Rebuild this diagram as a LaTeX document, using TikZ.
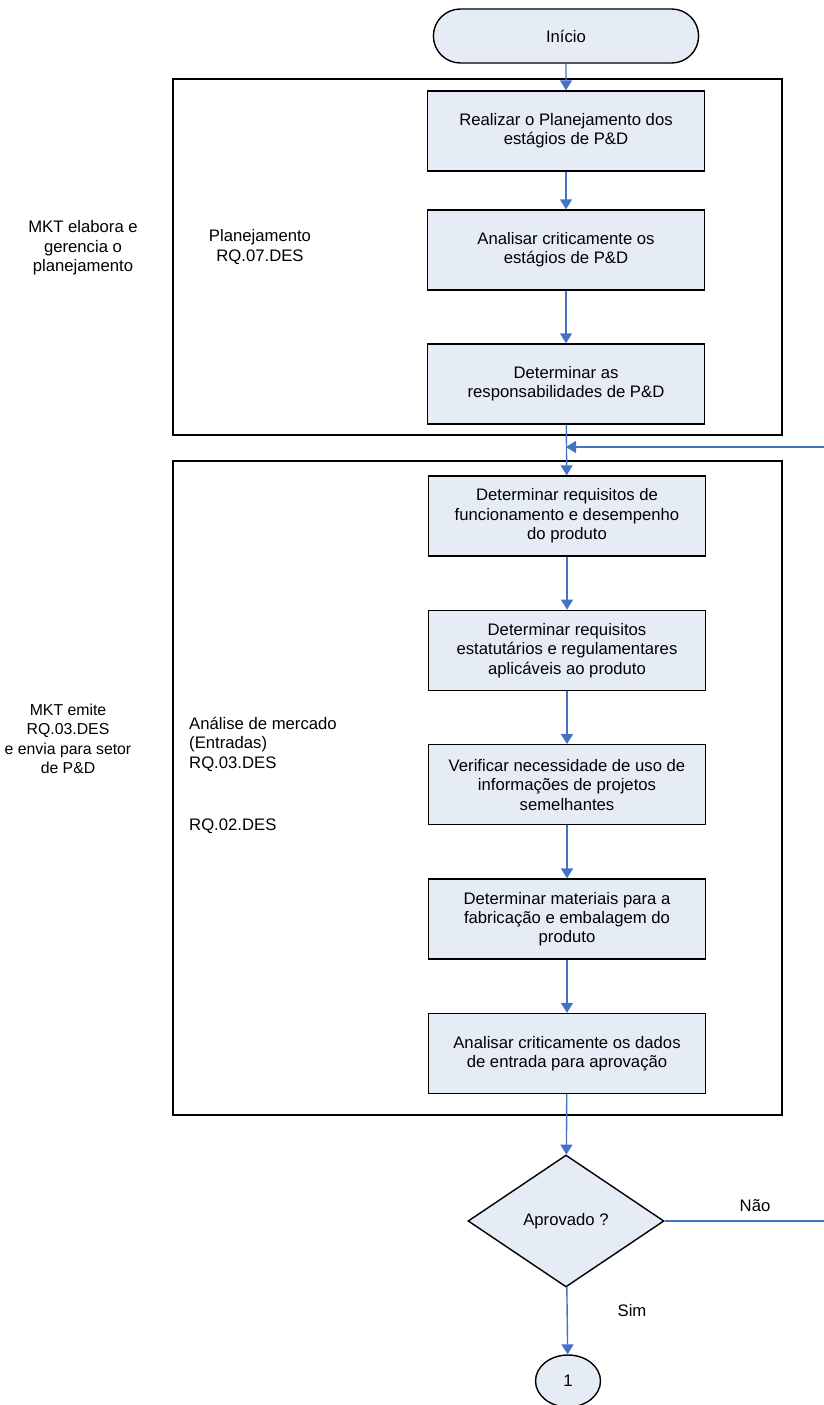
\documentclass[tikz,border=0pt]{standalone}
\usepackage{fontspec}
\setmainfont{Liberation Sans}
\usetikzlibrary{shapes, shapes.geometric, shapes.misc, arrows.meta, positioning}
\definecolor{flowfill}{RGB}{230, 236, 246}
\definecolor{flowblue}{RGB}{68, 114, 196}

\begin{document}
\begin{tikzpicture}[
        x=0.02cm, y=-0.02cm,
        node distance=1.06cm,
        font=\fontsize{9.5}{11}\selectfont,
        arr/.style={-{Triangle[length=2mm, width=2.4mm]}, flowblue, line width=0.8pt},
        box/.style={draw, line width=0.8pt, fill=flowfill, minimum width=5.54cm,
                    minimum height=1.6cm, align=center, inner sep=1pt},
        frame/.style={draw, line width=0.8pt},
        note/.style={align=center}
      ]
        \useasboundingbox (0,0) rectangle (823,1405);

        % the two frames
        \draw[frame] (173,79) rectangle (782,435);
        \draw[frame] (173,461) rectangle (782,1115);

        \node[draw, line width=0.8pt, rounded rectangle, fill=flowfill,
              minimum width=5.54cm, minimum height=1.08cm] (inicio) at (566,36) {Início};

        \node[box] (plan1) at (566,131) {Realizar o Planejamento dos\\estágios de P\&D};
        \node[box] (plan2) at (566,250) {Analisar criticamente os\\estágios de P\&D};
        \node[box] (plan3) at (566,384) {Determinar as\\responsabilidades de P\&D};

        \node[box] (req1) at (567,516)
              {Determinar requisitos de\\funcionamento e desempenho\\do produto};
        \node[box, below=of req1] (req2)
              {Determinar requisitos\\estatutários e regulamentares\\aplicáveis ao produto};
        \node[box, below=of req2] (req3)
              {Verificar necessidade de uso de\\informações de projetos\\semelhantes};
        \node[box, below=of req3] (req4)
              {Determinar materiais para a\\fabricação e embalagem do\\produto};
        \node[box, below=of req4] (req5)
              {Analisar criticamente os dados\\de entrada para aprovação};

        \node[draw, line width=0.8pt, diamond, fill=flowfill, minimum width=3.92cm,
              minimum height=2.64cm, inner sep=0pt] (dec) at (566,1221) {Aprovado ?};
        \node[draw, line width=0.8pt, ellipse, fill=flowfill, minimum width=1.3cm,
              minimum height=1.04cm] (con) at (568,1381) {1};

        % side notes
        \node[note] (mkt1) at (83,248) {MKT elabora e\\gerencia o\\planejamento};
        \node[note] (rq07) at (260,247) {Planejamento\\RQ.07.DES};
        \node[note, font=\fontsize{9}{11}\selectfont] (mkt2) at (68,739)
              {MKT emite\\RQ.03.DES\\e envia para setor\\de P\&D};
        \node[align=left, anchor=north west] (entr) at (183,711)
              {Análise de mercado\\(Entradas)\\RQ.03.DES};
        \node[anchor=west] (rq02) at (183,826) {RQ.02.DES};
        \node (nao) at (755,1206) {Não};
        \node (sim) at (632,1311) {Sim};

        \coordinate (back) at (826,447);

        \draw[arr] (inicio) -- (plan1);
        \draw[arr] (plan1) -- (plan2);
        \draw[arr] (plan2) -- (plan3);
        \draw[arr] (plan3) -- (req1);
        \draw[arr] (req1) -- (req2);
        \draw[arr] (req2) -- (req3);
        \draw[arr] (req3) -- (req4);
        \draw[arr] (req4) -- (req5);
        \draw[arr] (req5) -- (dec);
        \draw[arr] (dec) -- (con);
        \draw[arr] (dec.east) -| (back) -- (plan3.south |- back);
      \end{tikzpicture}
\end{document}
